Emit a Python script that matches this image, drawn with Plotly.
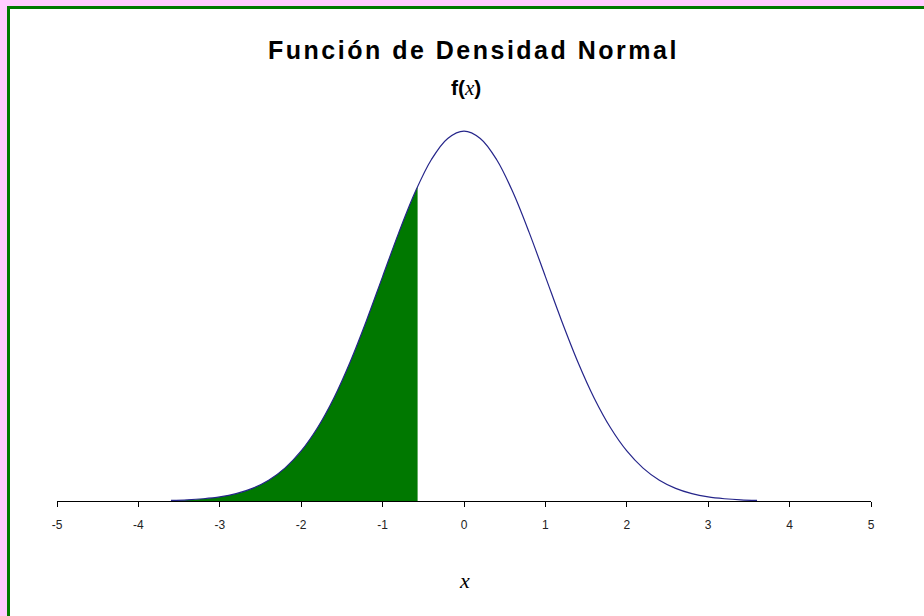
import plotly.graph_objects as go

# Standard normal density, sampled every 0.2 from -3.6 to 3.6
x_vals = [-3.6, -3.4, -3.2, -3.0, -2.8, -2.6, -2.4, -2.2, -2.0, -1.8, -1.6, -1.4,
          -1.2, -1.0, -0.8, -0.6, -0.4, -0.2, 0.0, 0.2, 0.4, 0.6, 0.8, 1.0, 1.2,
          1.4, 1.6, 1.8, 2.0, 2.2, 2.4, 2.6, 2.8, 3.0, 3.2, 3.4, 3.6]
density = [0.0006, 0.0012, 0.0024, 0.0044, 0.0079, 0.0136, 0.0224, 0.0355, 0.0540,
           0.0790, 0.1109, 0.1497, 0.1942, 0.2420, 0.2897, 0.3332, 0.3683, 0.3910,
           0.3989, 0.3910, 0.3683, 0.3332, 0.2897, 0.2420, 0.1942, 0.1497, 0.1109,
           0.0790, 0.0540, 0.0355, 0.0224, 0.0136, 0.0079, 0.0044, 0.0024, 0.0012,
           0.0006]

# Shaded lower tail up to the cut point
cut_x = -0.57
cut_y = 0.3391
tail_x = [v for v in x_vals if v < cut_x] + [cut_x]
tail_y = [d for v, d in zip(x_vals, density) if v < cut_x] + [cut_y]

tick_vals = [-5, -4, -3, -2, -1, 0, 1, 2, 3, 4, 5]
tick_text = ["-5", "-4", "-3", "-2", "-1", "0", "1", "2", "3", "4", "5"]

fig = go.Figure()
fig.add_trace(go.Scatter(
    x=tail_x, y=tail_y, mode="lines", fill="tozeroy",
    fillcolor="#007800", line=dict(color="#007800", width=0, shape="spline"),
    hoverinfo="skip", showlegend=False))
fig.add_trace(go.Scatter(
    x=x_vals, y=density, mode="lines",
    line=dict(color="#25258a", width=1.2, shape="spline"),
    showlegend=False))

# Pixel geometry of the plot area
L, R, T, B = 57, 53, 93, 115
W, H = 924 - L - R, 616 - T - B


def px(p):
    return (p - L) / W


def py(p):
    return (616 - B - p) / H


PINK = "#ffccff"
GREEN = "#007a00"
frame = [
    # pink strips along the top and left edges
    dict(type="rect", x0=px(0), x1=px(924), y0=py(6), y1=py(0)),
    dict(type="rect", x0=px(0), x1=px(7), y0=py(616), y1=py(0)),
]
for s in frame:
    s.update(xref="paper", yref="paper", layer="above",
             fillcolor=PINK, line=dict(width=0))
lines = [
    dict(type="line", x0=px(7), x1=px(924), y0=py(7.5), y1=py(7.5)),
    dict(type="line", x0=px(8.5), x1=px(8.5), y0=py(6), y1=py(616)),
]
for s in lines:
    s.update(xref="paper", yref="paper", layer="above",
             line=dict(color=GREEN, width=3))

fig.update_layout(
    width=924, height=616,
    margin=dict(l=L, r=R, t=T, b=B),
    paper_bgcolor="white",
    plot_bgcolor="white",
    showlegend=False,
    shapes=frame + lines,
    xaxis=dict(range=[-5, 5], tickvals=tick_vals, ticktext=tick_text,
               ticks="outside", ticklen=5,
               tickcolor="black", showline=True, linecolor="black", linewidth=1,
               showgrid=False, zeroline=False, ticklabelstandoff=8,
               tickfont=dict(family="Liberation Sans, Arial", size=12, color="#222")),
    yaxis=dict(range=[0, 0.44], visible=False, showgrid=False, zeroline=False),
    annotations=[
        dict(text="<span style='letter-spacing:2.5px'><b>Función de Densidad Normal</b></span>",
             xref="paper", yref="paper",
             x=px(473), y=py(50), xanchor="center", yanchor="middle",
             showarrow=False,
             font=dict(family="Liberation Sans, Arial", size=25, color="black")),
        dict(text="<b>f(</b><i><span style='font-family:Liberation Serif'>x</span></i><b>)</b>",
             xref="paper", yref="paper", x=px(466), y=py(88),
             xanchor="center", yanchor="middle", showarrow=False,
             font=dict(family="Liberation Sans, Arial", size=21, color="black")),
        dict(text="<i>x</i>", xref="paper", yref="paper", x=px(464), y=py(580),
             xanchor="center", yanchor="middle", showarrow=False,
             font=dict(family="Liberation Serif, Times New Roman", size=22, color="black")),
    ],
)

fig.write_html("out.html")
